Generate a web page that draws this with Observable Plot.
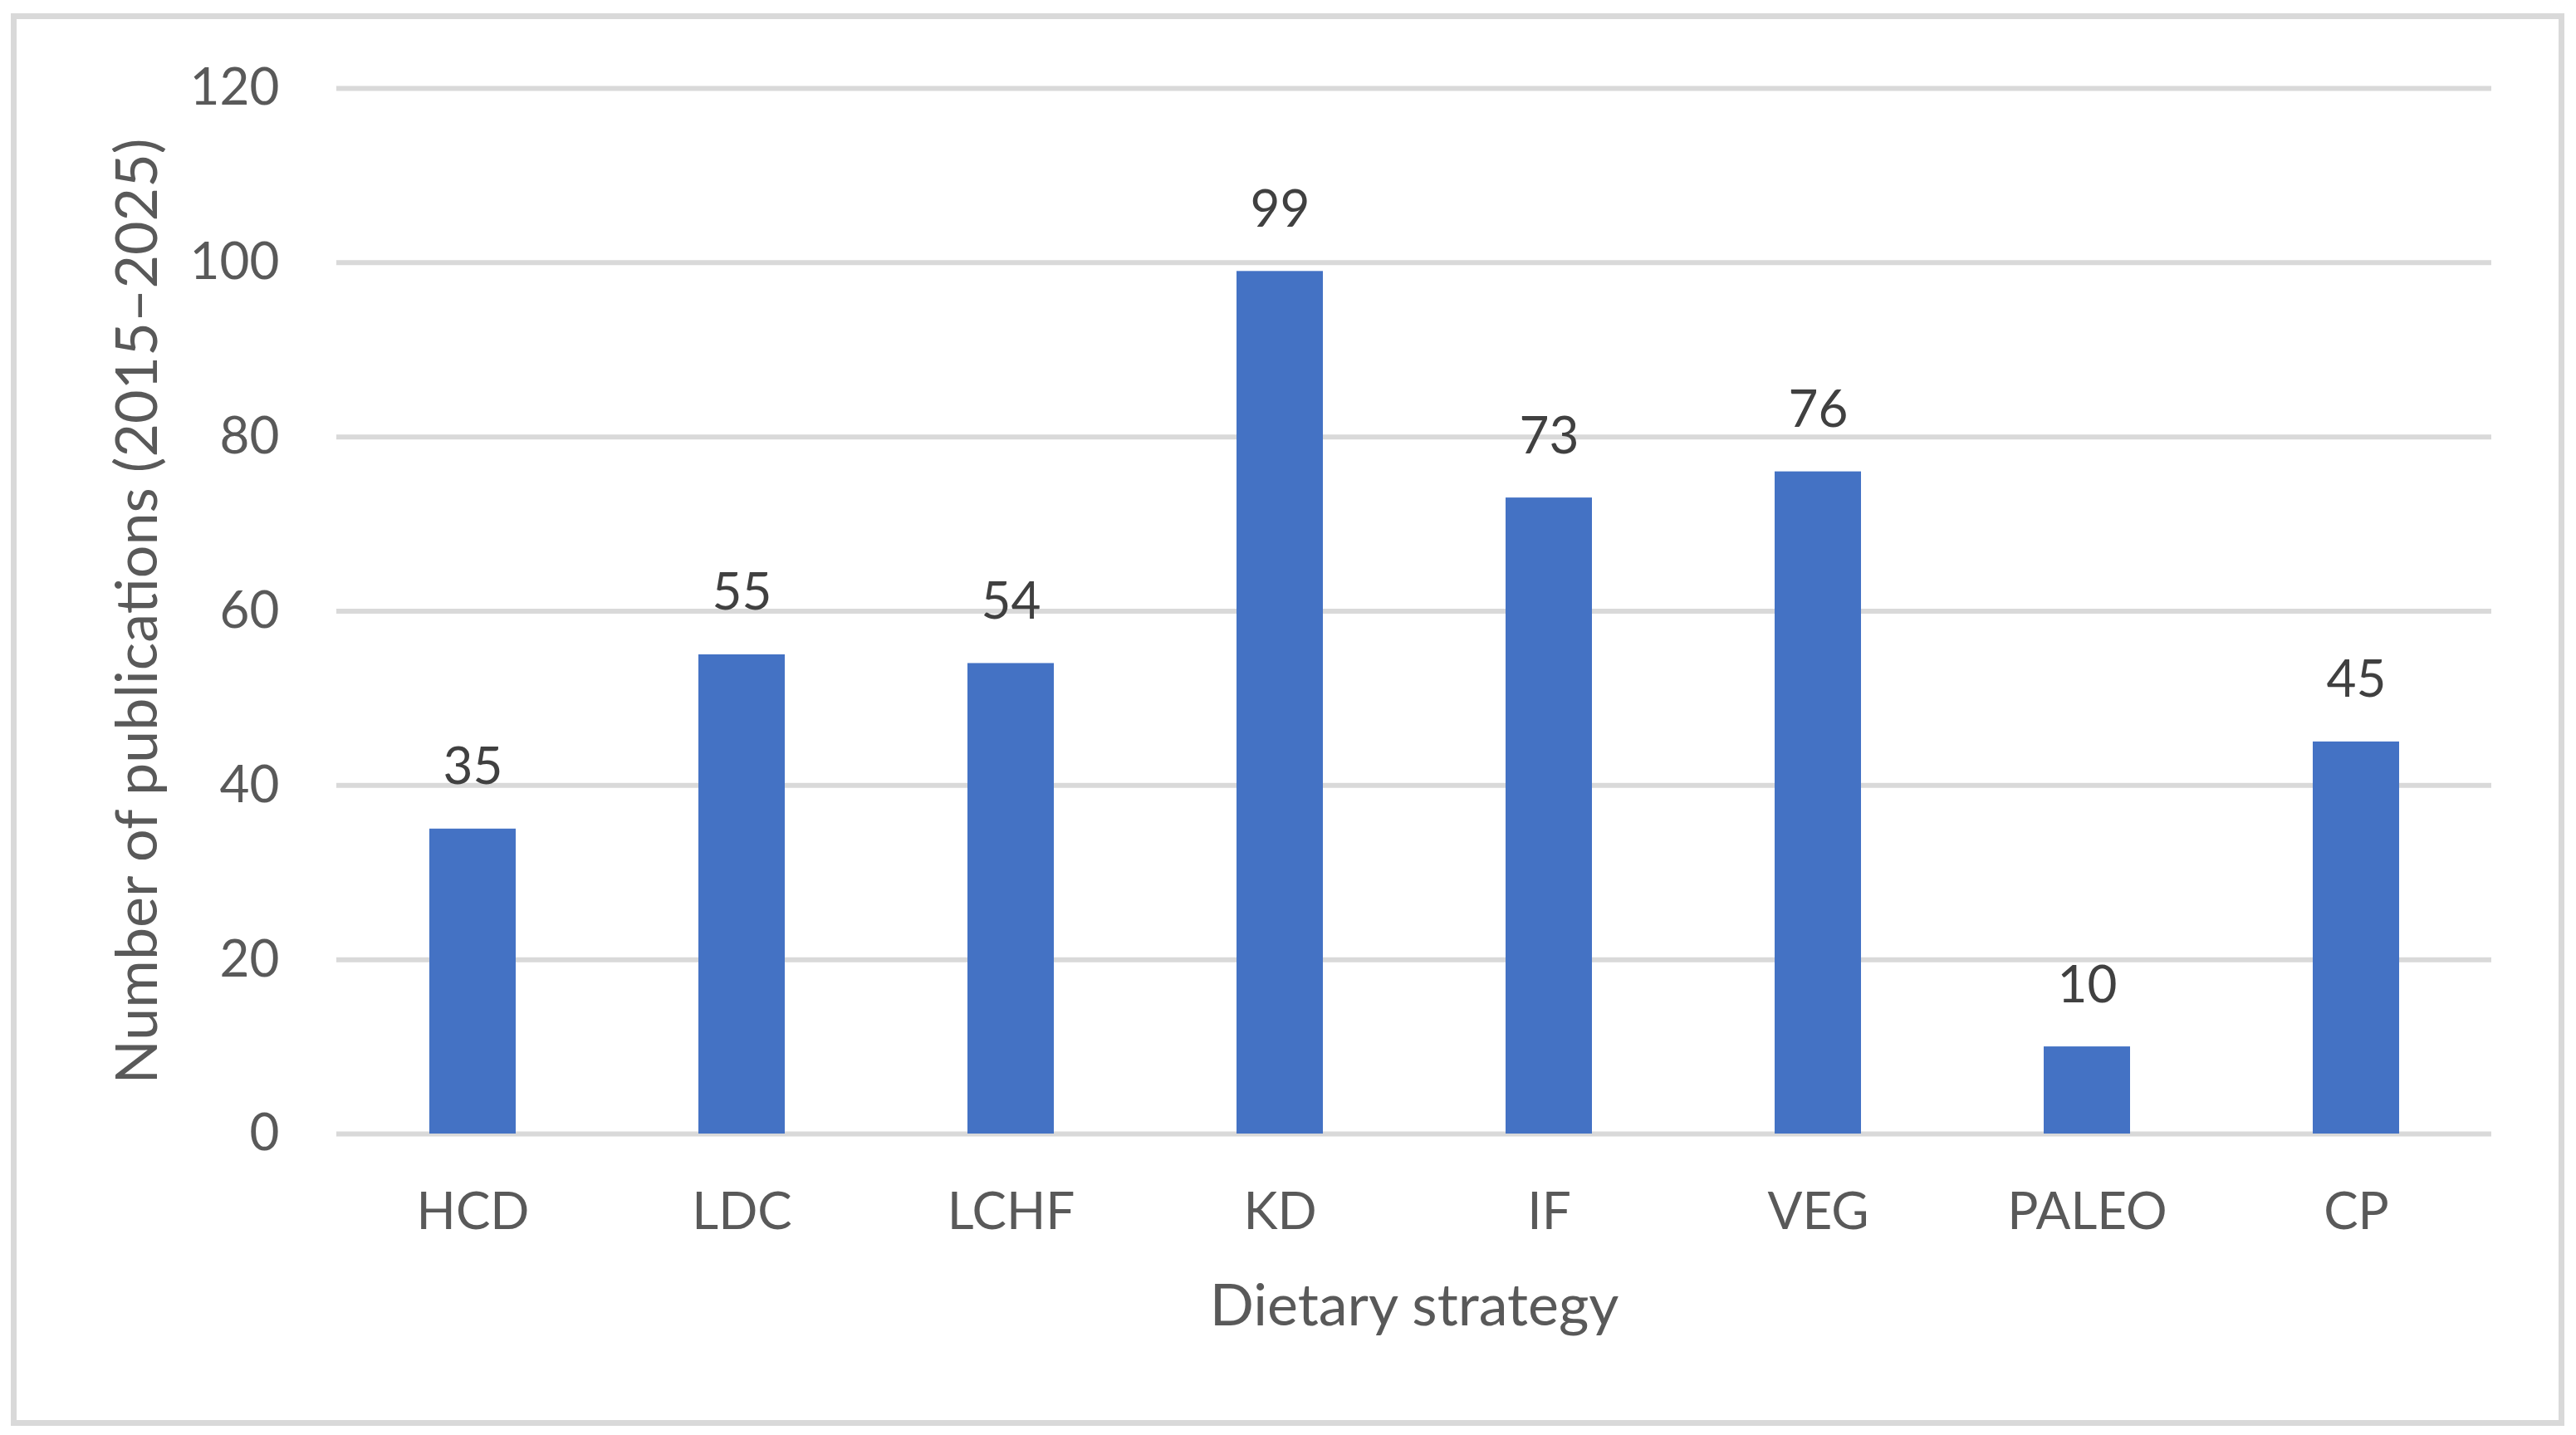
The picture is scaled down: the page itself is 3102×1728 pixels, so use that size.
<!DOCTYPE html>
<html>
<head>
<meta charset="utf-8">
<script src="https://cdn.jsdelivr.net/npm/d3@7"></script>
<script src="https://cdn.jsdelivr.net/npm/@observablehq/plot@0.6"></script>
<style>
  html, body { margin: 0; padding: 0; background: #ffffff; }
  #wrap { position: relative; width: 3102px; height: 1728px; }
  #border { position: absolute; left: 13px; top: 16px; width: 3075px; height: 1701px; box-sizing: border-box; border: 7px solid #d9d9d9; pointer-events: none; }
  #chart { position: absolute; left: 0; top: 0; }
</style>
</head>
<body>
<div id="wrap"><div id="chart"></div><div id="border"></div></div>
<script>
const categories = ["HCD", "LDC", "LCHF", "KD", "IF", "VEG", "PALEO", "CP"];
const values = [35, 55, 54, 99, 73, 76, 10, 45];
const yTicks = [0, 20, 40, 60, 80, 100, 120];
const xTitle = "Dietary strategy";
const yTitle = "Number of publications (2015–2025)";

const data = categories.map((c, i) => ({category: c, value: values[i]}));

const chart = Plot.plot({
  width: 3102,
  height: 1728,
  marginLeft: 405,
  marginRight: 102,
  marginTop: 106,
  marginBottom: 363,
  style: {fontFamily: "Lato, 'Open Sans', sans-serif", fontSize: "62px", color: "#595959", background: "transparent"},
  x: {domain: categories, paddingInner: 0.68, paddingOuter: 0.34, label: null},
  y: {domain: [0, 120], label: null},
  marks: [
    Plot.gridY(yTicks, {stroke: "#d9d9d9", strokeOpacity: 1, strokeWidth: 6}),
    Plot.barY(data, {x: "category", y: "value", fill: "#4472c4"}),
    Plot.text(data, {x: "category", y: "value", text: d => String(d.value), lineAnchor: "bottom", dy: -54, fill: "#404040", fontSize: 62}),
    Plot.axisY({ticks: yTicks, tickSize: 0, tickPadding: 69, label: null, fill: "#595959", fontSize: 62}),
    Plot.axisX({tickSize: 0, tickPadding: 70, label: null, fill: "#595959", fontSize: 62}),
    Plot.text([xTitle], {frameAnchor: "bottom", textAnchor: "middle", dy: 230, lineAnchor: "bottom", fill: "#595959", fontSize: 70}),
    Plot.text([yTitle], {frameAnchor: "left", textAnchor: "middle", rotate: -90, dx: -217, lineAnchor: "bottom", fill: "#595959", fontSize: 70})
  ]
});
document.getElementById("chart").appendChild(chart);
</script>
</body>
</html>
